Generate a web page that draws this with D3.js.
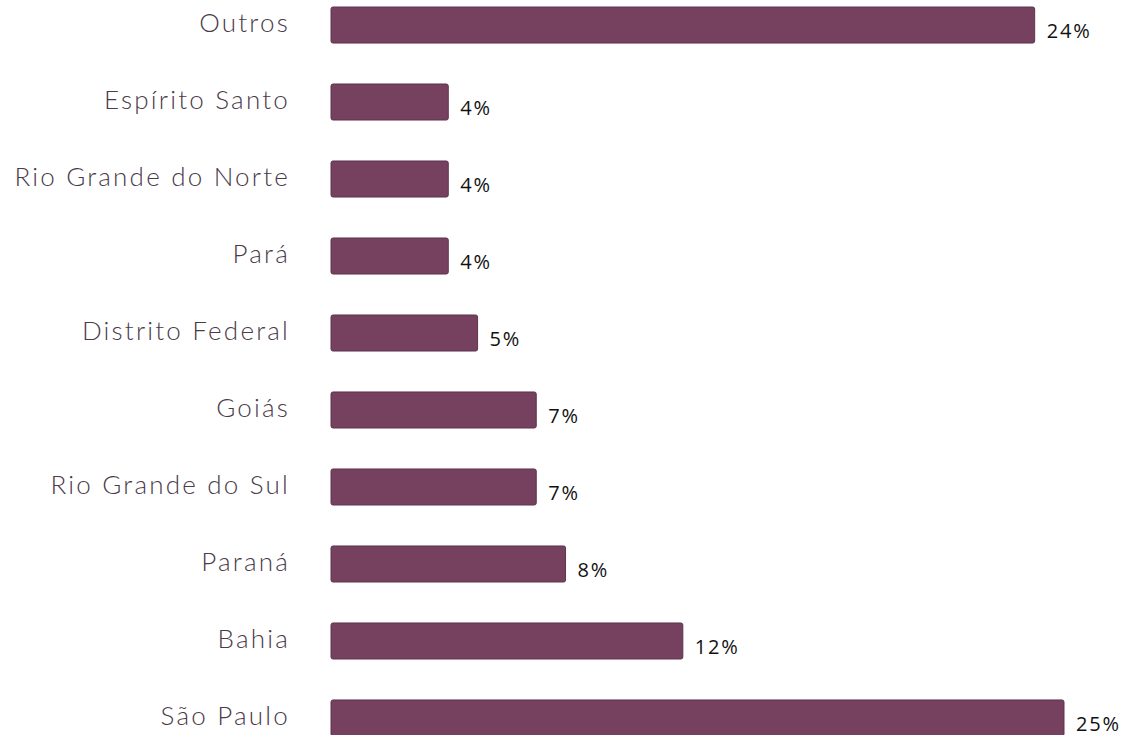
<!DOCTYPE html>
<html>
<head>
<meta charset="utf-8">
<script src="https://cdn.jsdelivr.net/npm/d3@7"></script>
<style>
  html, body { margin: 0; padding: 0; background: #ffffff; }
  .cat-label { font-family: Lato, "Open Sans", sans-serif; font-weight: 300; font-size: 26px; letter-spacing: 2.2px; fill: #4b3a4a; }
  .val-label { font-family: "Open Sans", Lato, sans-serif; font-size: 20px; letter-spacing: 1.8px; fill: #111111; }
</style>
</head>
<body>
<div id="chart"></div>
<script>
// states, top to bottom
const states = ["Outros", "Espírito Santo", "Rio Grande do Norte", "Pará", "Distrito Federal",
  "Goiás", "Rio Grande do Sul", "Paraná", "Bahia", "São Paulo"];
// share in percent
const shares = [24, 4, 4, 4, 5, 7, 7, 8, 12, 25];

const width = 1131;
const height = 735;
const barColor = "#75415f";

const data = states.map((s, i) => ({ state: s, value: shares[i] }));

const svg = d3.select("#chart")
  .append("svg")
    .attr("width", width)
    .attr("height", height)
    .attr("viewBox", `0 0 ${width} ${height}`);

// scales
const xScale = d3.scaleLinear()
  .domain([0, 25])
  .range([331, 1064]);

const yScale = d3.scaleBand()
  .domain(states)
  .range([7, 736])
  .paddingInner(0.532)
  .paddingOuter(0);

// bars
svg.selectAll("rect.bar")
  .data(data)
  .join("rect")
    .attr("class", "bar")
    .attr("x", xScale(0))
    .attr("y", d => yScale(d.state))
    .attr("width", d => xScale(d.value) - xScale(0))
    .attr("height", yScale.bandwidth())
    .attr("rx", 2)
    .attr("fill", barColor)
    .attr("stroke", "#5e344c")
    .attr("stroke-width", 1);

// category labels on the left (letter-spacing adds a trailing gap, so nudge right)
svg.selectAll("text.cat-label")
  .data(data)
  .join("text")
    .attr("class", "cat-label")
    .attr("text-anchor", "end")
    .attr("x", 290)
    .attr("y", d => yScale(d.state) + yScale.bandwidth() / 2 + 7)
    .text(d => d.state);

// value labels, a bit below the bar middle
svg.selectAll("text.val-label")
  .data(data)
  .join("text")
    .attr("class", "val-label")
    .attr("x", d => xScale(d.value) + 12)
    .attr("y", d => yScale(d.state) + yScale.bandwidth() / 2 + 13)
    .text(d => d.value + "%");
</script>
</body>
</html>
